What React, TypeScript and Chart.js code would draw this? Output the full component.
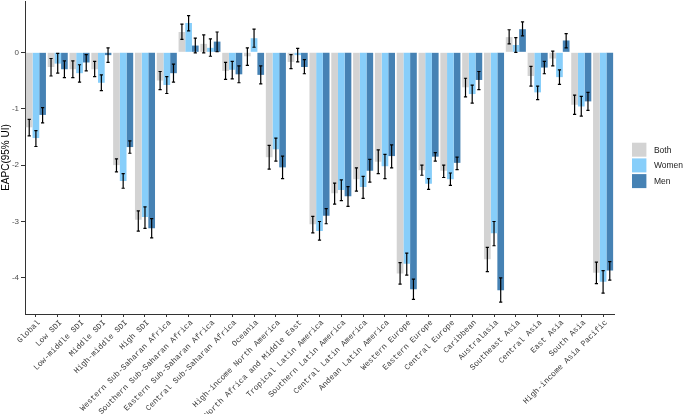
import React, { useEffect, useRef } from "react";
import { Chart, registerables } from "chart.js";

Chart.register(...registerables);

const categories = [
  "Global", "Low SDI", "Low-middle SDI", "Middle SDI", "High-middle SDI", "High SDI",
  "Western Sub-Saharan Africa", "Southern Sub-Saharan Africa", "Eastern Sub-Saharan Africa",
  "Central Sub-Saharan Africa", "Oceania", "High-income North America",
  "North Africa and Middle East", "Tropical Latin America", "Southern Latin America",
  "Central Latin America", "Andean Latin America", "Western Europe", "Eastern Europe",
  "Central Europe", "Caribbean", "Australasia", "Southeast Asia", "Central Asia",
  "East Asia", "South Asia", "High-income Asia Pacific",
];

const bothValues = [-1.33, -0.26, -0.3, -0.3, -2.0, -2.97, -0.5, 0.36, 0.15, -0.33, -0.07, -1.86, -0.17, -3.05, -2.5, -2.25, -1.94, -3.92, -2.09, -2.1, -0.62, -3.67, 0.27, -0.42, -0.11, -0.93, -3.91];
const bothUpper = [-1.19, -0.11, -0.15, -0.16, -1.89, -2.81, -0.34, 0.5, 0.31, -0.18, 0.08, -1.65, -0.04, -2.91, -2.32, -2.05, -1.73, -3.73, -2.0, -2.0, -0.46, -3.46, 0.4, -0.25, 0.02, -0.76, -3.72];
const bothLower = [-1.48, -0.42, -0.45, -0.43, -2.12, -3.17, -0.66, 0.23, -0.01, -0.48, -0.23, -2.07, -0.29, -3.2, -2.69, -2.46, -2.15, -4.11, -2.18, -2.22, -0.79, -3.89, 0.15, -0.6, -0.24, -1.1, -4.1];

const womenValues = [-1.52, -0.2, -0.37, -0.54, -2.28, -2.92, -0.58, 0.52, 0.08, -0.31, 0.25, -1.72, -0.05, -3.17, -2.44, -2.39, -2.02, -3.75, -2.33, -2.25, -0.74, -3.21, 0.13, -0.71, -0.44, -0.96, -4.07];
const womenUpper = [-1.39, -0.02, -0.22, -0.4, -2.15, -2.74, -0.43, 0.65, 0.24, -0.16, 0.41, -1.52, 0.07, -3.0, -2.26, -2.2, -1.81, -3.56, -2.24, -2.14, -0.58, -3.0, 0.26, -0.6, -0.31, -0.78, -3.87];
const womenLower = [-1.67, -0.37, -0.53, -0.68, -2.41, -3.12, -0.73, 0.38, -0.07, -0.47, 0.09, -1.93, -0.17, -3.33, -2.63, -2.59, -2.24, -3.95, -2.43, -2.36, -0.9, -3.43, 0.0, -0.84, -0.57, -1.13, -4.27];

const menValues = [-1.11, -0.3, -0.18, -0.05, -1.68, -3.12, -0.37, 0.12, 0.19, -0.39, -0.4, -2.04, -0.26, -2.9, -2.55, -2.1, -1.84, -4.2, -1.85, -1.96, -0.49, -4.22, 0.41, -0.27, 0.21, -0.87, -3.87];
const menUpper = [-0.98, -0.15, -0.04, 0.08, -1.57, -2.95, -0.21, 0.25, 0.36, -0.24, -0.24, -1.84, -0.13, -2.77, -2.38, -1.9, -1.64, -4.02, -1.78, -1.86, -0.34, -4.0, 0.54, -0.16, 0.33, -0.71, -3.71];
const menLower = [-1.25, -0.45, -0.33, -0.18, -1.79, -3.29, -0.53, -0.01, 0.01, -0.54, -0.56, -2.24, -0.38, -3.04, -2.73, -2.3, -2.05, -4.38, -1.93, -2.08, -0.66, -4.43, 0.29, -0.38, 0.08, -1.03, -4.04];

const seriesNames = ["Both", "Women", "Men"];
const seriesColors = ["#d3d3d3", "#87cefa", "#4682b4"];
const yTickValues = [-4, -3, -2, -1, 0];
const yMin = -4.64;
const yMax = 0.91;

const errorBarPlugin = {
  id: "errorBars",
  afterDatasetsDraw(chart: any) {
    const ctx = chart.ctx;
    const yScale = chart.scales.y;
    ctx.save();
    ctx.strokeStyle = "#000000";
    ctx.lineWidth = 1.2;
    chart.data.datasets.forEach((ds: any, i: number) => {
      const meta = chart.getDatasetMeta(i);
      meta.data.forEach((bar: any, j: number) => {
        const x = bar.x;
        const y1 = yScale.getPixelForValue(ds.errLower[j]);
        const y2 = yScale.getPixelForValue(ds.errUpper[j]);
        const cap = 1.6;
        ctx.beginPath();
        ctx.moveTo(x, y1);
        ctx.lineTo(x, y2);
        ctx.moveTo(x - cap, y1);
        ctx.lineTo(x + cap, y1);
        ctx.moveTo(x - cap, y2);
        ctx.lineTo(x + cap, y2);
        ctx.stroke();
      });
    });
    ctx.restore();
  },
};

const legendPlugin = {
  id: "customLegend",
  afterDraw(chart: any) {
    const ctx = chart.ctx;
    const x0 = chart.chartArea.right + 18;
    const y0 = 142.7;
    const boxW = 14.4;
    const boxH = 14;
    const pitch = 15.7;
    ctx.save();
    chart.data.datasets.forEach((ds: any, i: number) => {
      const y = y0 + i * pitch;
      ctx.fillStyle = ds.backgroundColor;
      ctx.fillRect(x0, y, boxW, boxH);
      ctx.fillStyle = "#1a1a1a";
      ctx.font = "8.5px 'Liberation Sans', Arial, sans-serif";
      ctx.textAlign = "left";
      ctx.textBaseline = "middle";
      ctx.fillText(ds.label, x0 + boxW + 7.5, y + boxH / 2 + 0.5);
    });
    ctx.restore();
  },
};

export default function App() {
  const canvasRef = useRef<HTMLCanvasElement | null>(null);

  useEffect(() => {
    const canvas = canvasRef.current;
    if (!canvas) return;
    const values = [bothValues, womenValues, menValues];
    const uppers = [bothUpper, womenUpper, menUpper];
    const lowers = [bothLower, womenLower, menLower];
    const chart = new Chart(canvas, {
      type: "bar",
      data: {
        labels: categories,
        datasets: seriesNames.map((name, i) => ({
          label: name,
          data: values[i],
          backgroundColor: seriesColors[i],
          borderWidth: 0,
          categoryPercentage: 0.92,
          barPercentage: 1.0,
          errUpper: uppers[i],
          errLower: lowers[i],
        })) as any,
      },
      options: {
        animation: false,
        responsive: false,
        devicePixelRatio: 1,
        layout: { padding: { top: 1, right: 71, bottom: 0, left: 0 } },
        plugins: {
          legend: { display: false },
          tooltip: { enabled: false },
        },
        scales: {
          x: {
            type: "category",
            offset: true,
            grid: {
              display: true,
              offset: false,
              drawOnChartArea: false,
              drawTicks: true,
              tickLength: 3,
              color: "#333333",
              lineWidth: 1,
            },
            border: { display: true, color: "#333333", width: 1 },
            ticks: {
              autoSkip: false,
              maxRotation: 45,
              minRotation: 45,
              padding: 1,
              labelOffset: 3,
              color: "#3a3a3a",
              font: { family: "'Liberation Mono', 'DejaVu Sans Mono', monospace", size: 8 },
            },
            afterFit: (scale: any) => {
              scale.height = 100;
              scale.paddingLeft = 0;
              scale.paddingRight = 0;
            },
          },
          y: {
            type: "linear",
            min: yMin,
            max: yMax,
            afterBuildTicks: (axis: any) => {
              axis.ticks = yTickValues.map((v) => ({ value: v }));
            },
            grid: {
              display: true,
              drawOnChartArea: false,
              drawTicks: true,
              tickLength: 4,
              color: "#333333",
              lineWidth: 1,
            },
            border: { display: true, color: "#333333", width: 1 },
            ticks: {
              padding: 2,
              color: "#4d4d4d",
              font: { family: "'Liberation Sans', Arial, sans-serif", size: 8 },
              callback: (v: any) => String(v),
            },
            title: {
              display: true,
              text: "EAPC(95% UI)",
              color: "#000000",
              padding: { top: 0, bottom: 0 },
              font: { family: "'Liberation Sans', Arial, sans-serif", size: 10 },
            },
            afterFit: (scale: any) => {
              scale.width = 25;
              scale.paddingTop = 0;
              scale.paddingBottom = 0;
            },
          },
        },
      },
      plugins: [errorBarPlugin, legendPlugin],
    });
    return () => chart.destroy();
  }, []);

  return (
    <div style={{ position: "absolute", left: 0, top: 0, width: 685, height: 414, background: "#ffffff" }}>
      <canvas ref={canvasRef} width={685} height={414} style={{ display: "block", width: 685, height: 414 }} />
    </div>
  );
}
